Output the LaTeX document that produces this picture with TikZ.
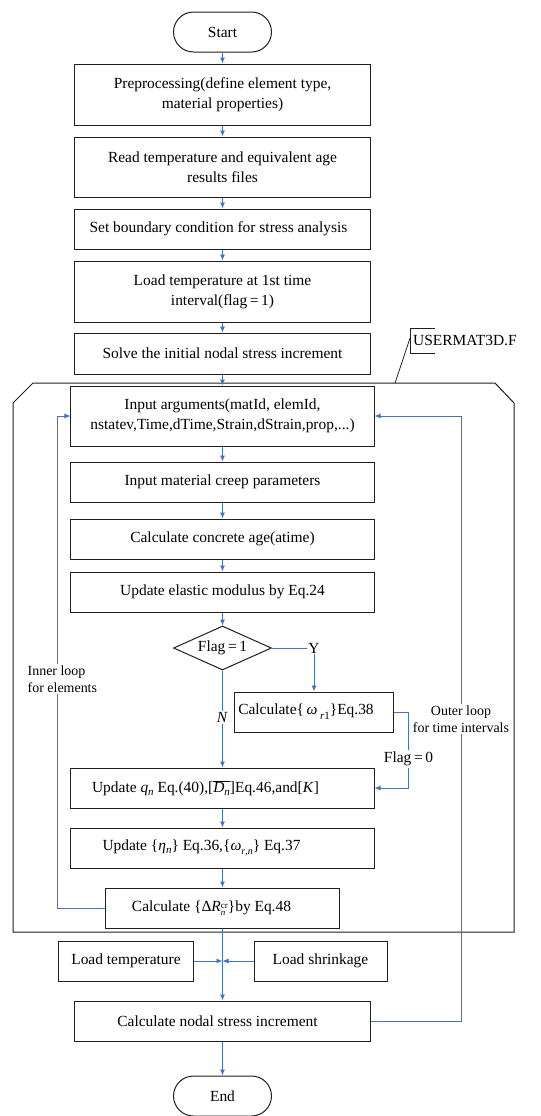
\documentclass[tikz,border=0pt]{standalone}
\usepackage{fontspec}
\setmainfont{Liberation Serif}
\usetikzlibrary{arrows.meta,shapes.geometric}
\definecolor{lblue}{RGB}{68,114,196}
\begin{document}
\begin{tikzpicture}[x=1bp,y=-1bp,
  font=\fontsize{15.5}{20}\selectfont,
  box/.style={draw=black!88, line width=1bp, inner sep=2bp, align=center},
  term/.style={box, rounded corners=20bp, minimum width=98bp, minimum height=40bp},
  dec/.style={draw=black!88, line width=1bp, diamond, aspect=2.2, inner sep=0pt, minimum width=98bp, minimum height=44bp},
  flow/.style={draw=lblue, line width=0.9bp, -{Latex[length=6bp,width=5bp]}},
  plain/.style={draw=lblue, line width=0.9bp},
  lbl/.style={fill=white, inner sep=1.5bp},
  small/.style={font=\fontsize{14}{17}\selectfont}]
\useasboundingbox (0,0) rectangle (541,1116);
% frame of USERMAT3D.F
\draw[black!88, line width=1bp] (33,383) -- (495,383) -- (514,403) -- (514,932) -- (13,932) -- (13,403) -- cycle;
\node[anchor=west, inner sep=0pt] (um) at (413,340) {USERMAT3D.F};
\draw[black!88, line width=0.8bp] (435,328) -- (410,328) -- (410,353) -- (435,353);
\draw[black!88, line width=0.8bp] (410,338) -- (395,383);
% nodes
\node[term] (start) at (222.5,32) {Start};
\node[box, minimum width=296bp, minimum height=61bp] (b1) at (222.5,94.5) {Preprocessing(define element type,\\ material properties)};
\node[box, minimum width=296bp, minimum height=60bp] (b2) at (222.5,167) {Read temperature and equivalent age\\ results files};
\node[box, minimum width=296bp, minimum height=40bp] (b3) at (222.5,229) {Set boundary condition for stress analysis\hspace*{8bp}};
\node[box, minimum width=296bp, minimum height=61bp] (b4) at (222.5,291.5) {Load temperature at 1st time\\ interval(flag\,=\,1)};
\node[box, minimum width=296bp, minimum height=41bp] (b5) at (222.5,353.5) {Solve the initial nodal stress increment};
\node[box, minimum width=303bp, minimum height=60bp] (in) at (222.5,416) {Input arguments(matId, elemId,\\ nstatev,Time,dTime,Strain,dStrain,prop,...)};
\node[box, minimum width=303bp, minimum height=40bp] (creep) at (222.5,482) {Input material creep parameters};
\node[box, minimum width=303bp, minimum height=40bp] (age) at (222.5,539) {Calculate concrete age(atime)};
\node[box, minimum width=303bp, minimum height=40bp] (el) at (222.5,592) {Update elastic modulus by Eq.24};
\node[dec] (dec) at (222.5,648) {Flag\,=\,1};
\node[inner sep=1bp] (yl) at (314,648) {Y};
\node[box, minimum width=159bp, minimum height=40bp] (om) at (314,712) {Calculate\{\,\textit{ω}\,\raisebox{-5bp}{\fontsize{11}{11}\selectfont\textit{r}1}\}Eq.38\hspace*{16bp}};
\node[box, minimum width=303bp, minimum height=40bp] (uq) at (222.5,788) {Update \textit{q}\raisebox{-3bp}{\fontsize{11}{11}\selectfont\textit{n}} Eq.(40),[$\overline{\mbox{\textit{D}\raisebox{-3bp}{\fontsize{11}{11}\selectfont\textit{n}}}}$]Eq.46,and[\textit{K}]\hspace*{34bp}};
\node[box, minimum width=303bp, minimum height=40bp] (ue) at (222.5,848) {Update \{\textit{η}\raisebox{-3bp}{\fontsize{11}{11}\selectfont\textit{n}}\} Eq.36,\{\textit{ω}\raisebox{-4bp}{\fontsize{10}{10}\selectfont\textit{r},\textit{n}}\} Eq.37\hspace*{42bp}};
\node[box, minimum width=233bp, minimum height=40bp] (dr) at (222.5,908) {Calculate \{Δ\textit{R}\raisebox{-4.5bp}{\fontsize{9}{10.5}\selectfont\shortstack[l]{cr\\\textit{n}}}\}by Eq.48\hspace*{22bp}};
\node[box, minimum width=134bp, minimum height=40bp] (lt) at (126,961) {Load temperature};
\node[box, minimum width=133bp, minimum height=40bp] (ls) at (320.5,961) {Load shrinkage};
\node[box, minimum width=296bp, minimum height=40bp] (nodal) at (222.5,1021) {Calculate nodal stress increment\hspace*{10bp}};
\node[term] (end) at (222.5,1096) {End};
\coordinate (j) at (222.5,961);
\coordinate (ic) at (57,416);
\coordinate (oc) at (461,416);
% connectors
\draw[flow] (start) -- (b1);
\draw[flow] (b1) -- (b2);
\draw[flow] (b2) -- (b3);
\draw[flow] (b3) -- (b4);
\draw[flow] (b4) -- (b5);
\draw[flow] (b5) -- (in);
\draw[flow] (in) -- (creep);
\draw[flow] (creep) -- (age);
\draw[flow] (age) -- (el);
\draw[flow] (el) -- (dec);
\draw[plain] (dec.east) -- (yl);
\draw[flow] (yl) -- (om);
\draw[flow] (dec.south) -- node[lbl, pos=0.48] (nl) {\textit{N}} (uq.north);
\draw[flow] (om.east) -| ([xshift=34bp]uq.east) -- (uq.east);
\node[lbl] (f0) at (408.5,759) {Flag\,=\,0};
\draw[flow] (uq) -- (ue);
\draw[flow] (ue) -- (dr);
\draw[flow] (dr.west) -| (ic) -- (in.west);
\node[lbl, small, align=left, anchor=west] (inl) at (26,679) {Inner loop\\for elements};
\draw[flow] (dr.south) -- (nodal.north);
\draw[flow] (lt.east) -- (j);
\draw[flow] (ls.west) -- (j);
\draw[flow] (nodal.east) -| (oc) -- (in.east);
\node[lbl, small, align=center] (outl) at (461,719) {Outer loop\\for time intervals};
\draw[flow] (nodal) -- (end);
\end{tikzpicture}
\end{document}
